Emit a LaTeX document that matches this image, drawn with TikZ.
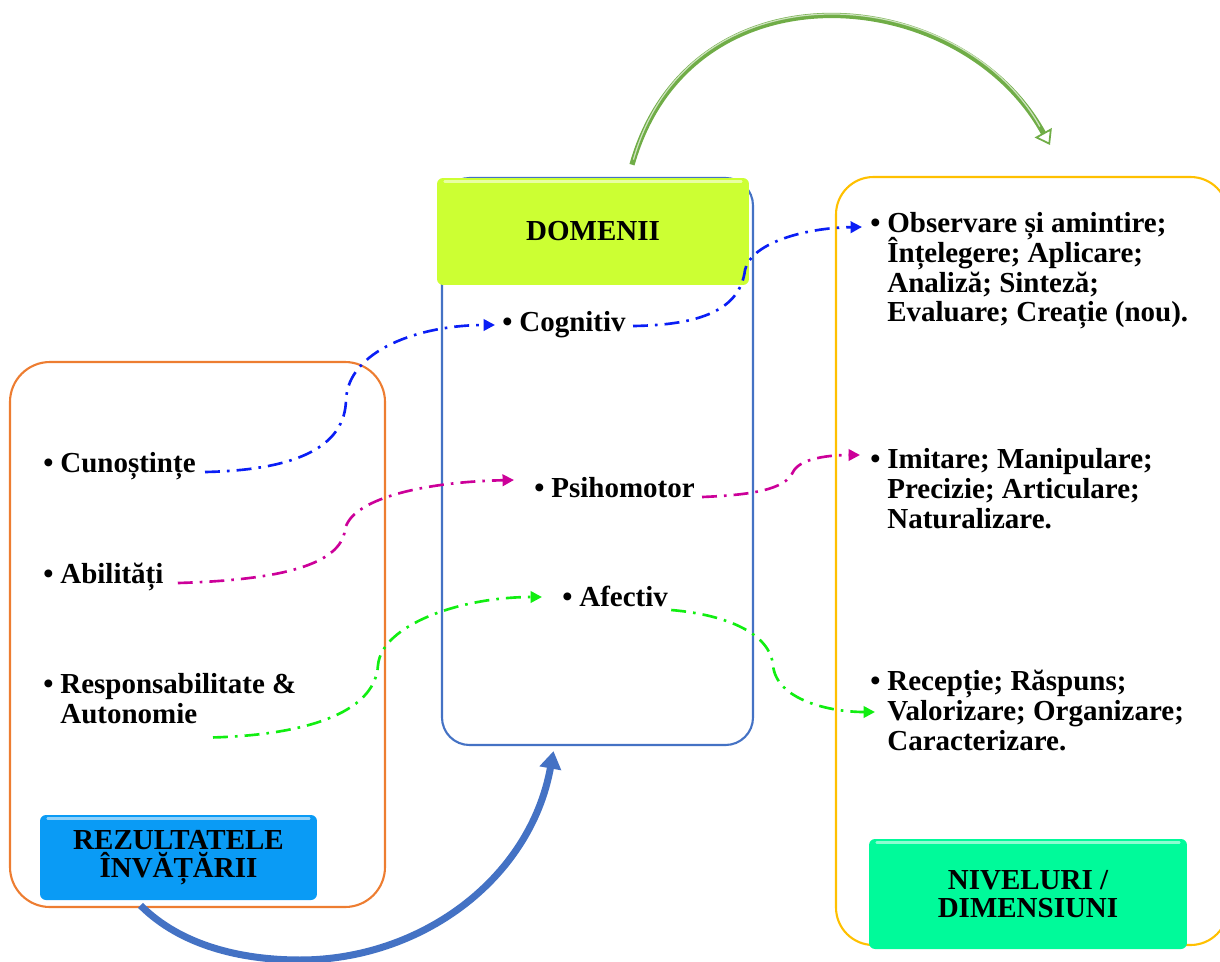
\documentclass[tikz,border=0pt]{standalone}
\usepackage{fontspec}
\setmainfont{Liberation Serif}
\usetikzlibrary{arrows.meta,calc,fit}
\definecolor{orangebox}{HTML}{ED7D31}
\definecolor{bluebox}{HTML}{4472C4}
\definecolor{yellowbox}{HTML}{FFC000}
\definecolor{rezfill}{HTML}{0A9BF5}
\definecolor{domfill}{HTML}{CCFF33}
\definecolor{nivfill}{HTML}{00FA9A}
\definecolor{cblue}{HTML}{0A1EF5}
\definecolor{cmag}{HTML}{CC0099}
\definecolor{cgreen}{HTML}{11EE11}
\definecolor{arrgreen}{HTML}{70AD47}
\definecolor{arrblue}{HTML}{4472C4}
\newcommand{\bul}{\makebox[0.34cm][l]{\textbullet}}
\newcommand{\ind}{\hspace*{0.34cm}}
\begin{document}
\begin{tikzpicture}[x=0.02cm,y=-0.02cm,
  txt/.style={font={\fontsize{16.5}{17}\selectfont\bfseries\lineskiplimit=-100pt}, inner sep=0pt, align=left},
  ttl/.style={font={\fontsize{16.5}{16}\selectfont\bfseries\lineskiplimit=-100pt}, inner sep=0pt, align=center},
  container/.style={draw, line width=1.2pt, inner sep=0pt},
  btn/.style={rounded corners=0.12cm, inner sep=0pt},
  conn/.style={line width=1.5pt, dash pattern=on 8.5pt off 4pt on 1.5pt off 4pt, -{Triangle[length=6.5pt,width=6.5pt]}}
]
\useasboundingbox (0,0) rectangle (1220,961);

% containers
\node[container, draw=orangebox, rounded corners=0.8cm, fit={(10,362) (385,907)}] (leftbox) {};
\node[container, draw=bluebox, rounded corners=0.55cm, fit={(442,178) (753,745)}] (midbox) {};
\node[container, draw=yellowbox, rounded corners=0.75cm, fit={(836,177) (1228,945)}] (rightbox) {};

% buttons
\node[btn, fill=rezfill, minimum width=5.54cm, minimum height=1.7cm] (rez) at (178.5,857.5) {};
\node[ttl] at (rez.center) {REZULTATELE\\ÎNVĂȚĂRII};
\node[btn, fill=domfill, minimum width=6.24cm, minimum height=2.14cm] (dom) at (593,231.5) {};
\node[ttl] at (dom.center) {DOMENII};
\node[btn, fill=nivfill, minimum width=6.36cm, minimum height=2.2cm] (niv) at (1028,894) {};
\node[ttl] at (niv.center) {NIVELURI /\\DIMENSIUNI};
\foreach \b in {rez,dom,niv}{
  \draw[white, opacity=0.55, line width=1.5pt, line cap=round] ($(\b.north west)+(8,4)$) -- ($(\b.north east)+(-8,4)$);
}

% left texts
\node[txt, anchor=base west] (cun) at (43,472) {\bul Cunoștințe};
\node[txt, anchor=base west] (abi) at (43,583) {\bul Abilități};
\node[txt, anchor=north west] (resp) at (43,672) {\strut\bul Responsabilitate \&\\\ind Autonomie\strut};

% middle texts
\node[txt, anchor=base west] (cog) at (502,331) {\bul Cognitiv};
\node[txt, anchor=base west] (psi) at (534,497) {\bul Psihomotor};
\node[txt, anchor=base west] (afe) at (562,606) {\bul Afectiv};

% right texts
\node[txt, anchor=north west] (obs) at (870,211) {\strut\bul Observare și amintire;\\\ind Înțelegere; Aplicare;\\\ind Analiză; Sinteză;\\\ind Evaluare; Creație (nou).\strut};
\node[txt, anchor=north west] (imi) at (870,447) {\strut\bul Imitare; Manipulare;\\\ind Precizie; Articulare;\\\ind Naturalizare.\strut};
\node[txt, anchor=north west] (rec) at (870,669) {\strut\bul Recepție; Răspuns;\\\ind Valorizare; Organizare;\\\ind Caracterizare.\strut};

% dash-dot connectors
\draw[conn, cblue] ($(cun.base east)+(9,0)$) .. controls (300,470) and (345,445) .. (346,400)
   .. controls (348,350) and (420,325) .. ($(cog.base west)+(-7,-6)$);
\draw[conn, cmag] ($(abi.base east)+(14,0)$) .. controls (280,580) and (340,565) .. (345,530)
   .. controls (350,500) and (420,482) .. ($(psi.base west)+(-20,-17)$);
\draw[conn, cgreen] ($(resp.south west)+(170,5)$) .. controls (300,735) and (375,715) .. (378,665)
   .. controls (382,625) and (460,597) .. ($(afe.base west)+(-20,-9)$);
\draw[conn, cblue] ($(cog.base east)+(7,-5)$) .. controls (700,325) and (740,310) .. (745,270)
   .. controls (750,245) and (800,228) .. ($(obs.north west)+(-8,16)$);
\draw[conn, cmag] ($(psi.base east)+(7,0)$) .. controls (750,495) and (785,490) .. (793,472)
   .. controls (800,458) and (830,455) .. ($(imi.north west)+(-10,8)$);
\draw[conn, cgreen] ($(afe.base east)+(3,4)$) .. controls (730,615) and (770,635) .. (773,665)
   .. controls (776,700) and (830,712) .. ($(rec.north west)+(5,43)$);

% big arrows
\coordinate (bstart) at ($(rez.south)+(-38,5)$);
\coordinate (bend) at ($(midbox.south)+(-44,5)$);
\draw[arrblue, line width=4pt, -{Triangle[length=10pt,width=12pt]}] (bstart) .. controls (180,945) and (240,960) .. (300,960)
   .. controls (420,960) and (530,880) .. (bend);
\coordinate (gstart) at ($(dom.north)+(39,-13)$);
\coordinate (gend) at (1050,145);
\draw[arrgreen, line width=3pt, -{Triangle[open,length=8pt,width=11pt,line width=1pt]}] (gstart) .. controls (690,-40) and (960,-18) .. (gend);
\draw[arrgreen!35!white, line width=0.7pt, shorten >=12pt, shorten <=3pt] (gstart) .. controls (690,-40) and (960,-18) .. (gend);
\end{tikzpicture}
\end{document}
